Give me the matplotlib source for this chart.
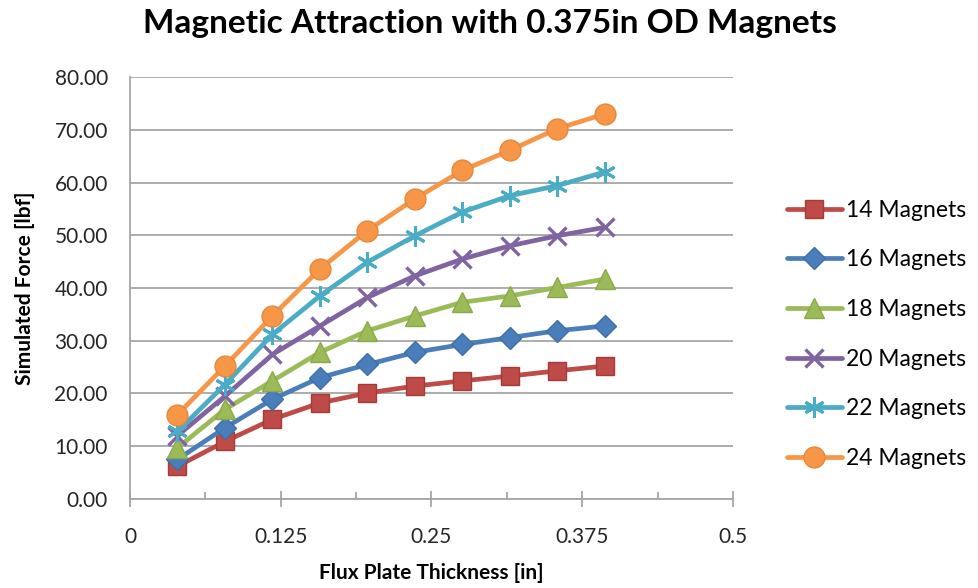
import matplotlib
matplotlib.use("Agg")
import matplotlib.pyplot as plt
from matplotlib.ticker import FixedLocator, FormatStrFormatter

# ─── Data ─────────────────────────────────────────────────────────────────────
# plate thickness, 1..10 mm expressed in inches
thickness_mm = [1, 2, 3, 4, 5, 6, 7, 8, 9, 10]
thickness_in = [t / 25.4 for t in thickness_mm]

force_14 = [6.2, 10.9, 15.1, 18.2, 20.1, 21.4, 22.4, 23.3, 24.3, 25.2]
force_16 = [7.5, 13.5, 18.9, 23.0, 25.5, 27.8, 29.3, 30.6, 31.9, 32.8]
force_18 = [9.7, 17.0, 22.4, 27.8, 31.9, 34.7, 37.3, 38.5, 40.1, 41.7]
force_20 = [12.0, 19.5, 27.4, 32.8, 38.2, 42.3, 45.5, 48.0, 49.9, 51.5]
force_22 = [12.8, 21.7, 31.2, 38.5, 44.9, 49.9, 54.4, 57.5, 59.4, 62.0]
force_24 = [16.0, 25.2, 34.7, 43.6, 50.9, 56.9, 62.3, 66.1, 70.2, 73.0]

labels = ["14 Magnets", "16 Magnets", "18 Magnets",
          "20 Magnets", "22 Magnets", "24 Magnets"]

x_major = [0, 0.125, 0.25, 0.375, 0.5]
x_major_labels = ["0", "0.125", "0.25", "0.375", "0.5"]
x_minor = [0.0625, 0.1875, 0.3125, 0.4375]

# ─── Styles ───────────────────────────────────────────────────────────────────
styles = [
    dict(color="#BE4B48", marker="s", ms=13, mec="#A33B38"),
    dict(color="#4A7EBB", marker="D", ms=11, mec="#3F6FA8"),
    dict(color="#9BBB59", marker="^", ms=14, mec="#8AAA4A"),
    dict(color="#8064A2", marker="x", ms=13, mec="#8064A2", mew=2.4),
    dict(color="#4BACC6", marker=(6, 2, 0), ms=15, mec="#4BACC6", mew=2.2),
    dict(color="#F79646", marker="o", ms=15, mec="#E8863A"),
]

plt.rcParams["font.family"] = ["Lato", "DejaVu Sans"]

fig = plt.figure(figsize=(9.79, 5.88), dpi=100)
ax = fig.add_axes([0.1328, 0.1514, 0.6159, 0.7176])

series = [force_14, force_16, force_18, force_20, force_22, force_24]
for ys, lab, st in zip(series, labels, styles):
    ax.plot(thickness_in, ys, label=lab, lw=3.4, color=st["color"],
            marker=st["marker"], ms=st["ms"], mec=st["mec"],
            mfc=st["color"], mew=st.get("mew", 1.0), solid_capstyle="round")

ax.set_xlim(0, 0.5)
ax.set_ylim(0, 80)
ax.set_yticks(range(0, 81, 10))
ax.yaxis.set_major_formatter(FormatStrFormatter("%.2f"))
ax.xaxis.set_major_locator(FixedLocator(x_major))
ax.xaxis.set_minor_locator(FixedLocator(x_minor))
ax.set_xticklabels(x_major_labels)

ax.grid(axis="y", color="#A6A6A6", lw=1.3)
ax.set_axisbelow(True)
for side in ["top", "right"]:
    ax.spines[side].set_visible(False)
for side in ["left", "bottom"]:
    ax.spines[side].set_color("#A6A6A6")
    ax.spines[side].set_linewidth(1.3)

ax.tick_params(axis="y", length=0, pad=16, labelsize=15, labelcolor="#262626")
ax.tick_params(axis="x", which="major", direction="inout", length=12,
               color="#A6A6A6", width=1.3, pad=14, labelsize=15,
               labelcolor="#262626")
ax.tick_params(axis="x", which="minor", direction="in", length=5,
               color="#A6A6A6", width=1.3)

ax.set_xlabel("Flux Plate Thickness [in]", fontsize=15, fontweight="bold",
              labelpad=12)
ax.set_ylabel("Simulated Force [lbf]", fontsize=15, fontweight="bold",
              labelpad=14)
fig.suptitle("Magnetic Attraction with 0.375in OD Magnets", x=0.5, y=0.985,
             fontsize=24, fontweight="bold")

ax.legend(loc="center left", bbox_to_anchor=(1.055, 0.39), frameon=False,
          fontsize=16.5, handlelength=2.4, labelspacing=1.25, handletextpad=0.2)

fig.savefig("out.png", dpi=100)
